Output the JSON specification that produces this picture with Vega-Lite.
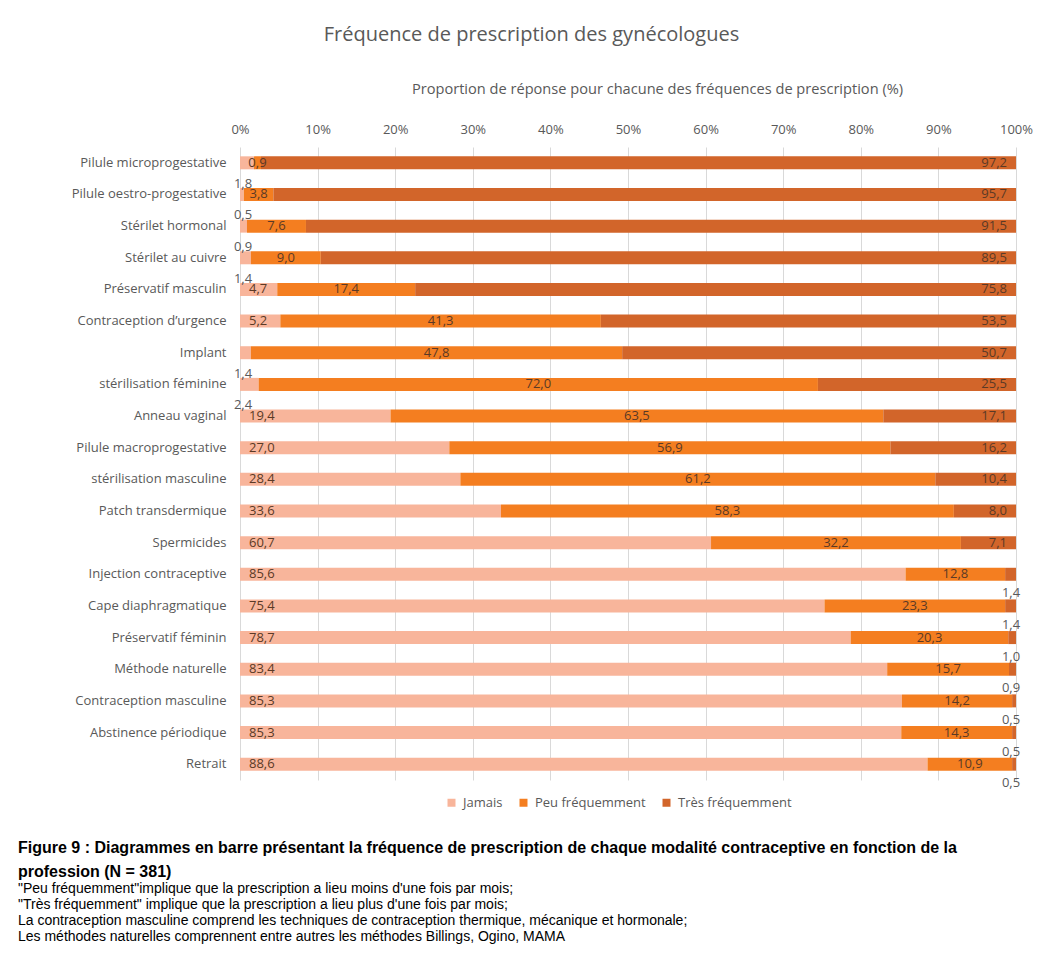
{
  "$schema": "https://vega.github.io/schema/vega-lite/v6.json",
  "width": 776,
  "height": 633,
  "autosize": {"type": "none"},
  "padding": {"left": 240, "top": 147, "right": 34, "bottom": 183},
  "background": "white",
  "config": {"view": {"stroke": null}, "font": "Open Sans"},
  "title": {
    "text": ["Figure 9 : Diagrammes en barre présentant la fréquence de prescription de chaque modalité contraceptive en fonction de la", "profession (N = 381)"],
    "subtitle": ["\"Peu fréquemment\"implique que la prescription a lieu moins d'une fois par mois;", "\"Très fréquemment\" implique que la prescription a lieu plus d'une fois par mois;", "La contraception masculine comprend les techniques de contraception thermique, mécanique et hormonale;", "Les méthodes naturelles comprennent entre autres les méthodes Billings, Ogino, MAMA"],
    "orient": "bottom",
    "anchor": "start",
    "frame": "group",
    "dx": -222,
    "offset": 30,
    "font": "Liberation Sans",
    "fontSize": 16,
    "fontWeight": "bold",
    "color": "#000000",
    "lineHeight": 24,
    "subtitleFont": "Liberation Sans",
    "subtitleFontSize": 14,
    "subtitleColor": "#000000",
    "subtitleLineHeight": 16,
    "subtitlePadding": 2
  },
  "data": {"values": [
    {"method": "Pilule microprogestative", "freq": "Jamais", "value": 1.8},
    {"method": "Pilule microprogestative", "freq": "Peu fréquemment", "value": 0.9},
    {"method": "Pilule microprogestative", "freq": "Très fréquemment", "value": 97.2},
    {"method": "Pilule oestro-progestative", "freq": "Jamais", "value": 0.5},
    {"method": "Pilule oestro-progestative", "freq": "Peu fréquemment", "value": 3.8},
    {"method": "Pilule oestro-progestative", "freq": "Très fréquemment", "value": 95.7},
    {"method": "Stérilet hormonal", "freq": "Jamais", "value": 0.9},
    {"method": "Stérilet hormonal", "freq": "Peu fréquemment", "value": 7.6},
    {"method": "Stérilet hormonal", "freq": "Très fréquemment", "value": 91.5},
    {"method": "Stérilet au cuivre", "freq": "Jamais", "value": 1.4},
    {"method": "Stérilet au cuivre", "freq": "Peu fréquemment", "value": 9.0},
    {"method": "Stérilet au cuivre", "freq": "Très fréquemment", "value": 89.5},
    {"method": "Préservatif masculin", "freq": "Jamais", "value": 4.7},
    {"method": "Préservatif masculin", "freq": "Peu fréquemment", "value": 17.4},
    {"method": "Préservatif masculin", "freq": "Très fréquemment", "value": 75.8},
    {"method": "Contraception d’urgence", "freq": "Jamais", "value": 5.2},
    {"method": "Contraception d’urgence", "freq": "Peu fréquemment", "value": 41.3},
    {"method": "Contraception d’urgence", "freq": "Très fréquemment", "value": 53.5},
    {"method": "Implant", "freq": "Jamais", "value": 1.4},
    {"method": "Implant", "freq": "Peu fréquemment", "value": 47.8},
    {"method": "Implant", "freq": "Très fréquemment", "value": 50.7},
    {"method": "stérilisation féminine", "freq": "Jamais", "value": 2.4},
    {"method": "stérilisation féminine", "freq": "Peu fréquemment", "value": 72.0},
    {"method": "stérilisation féminine", "freq": "Très fréquemment", "value": 25.5},
    {"method": "Anneau vaginal", "freq": "Jamais", "value": 19.4},
    {"method": "Anneau vaginal", "freq": "Peu fréquemment", "value": 63.5},
    {"method": "Anneau vaginal", "freq": "Très fréquemment", "value": 17.1},
    {"method": "Pilule macroprogestative", "freq": "Jamais", "value": 27.0},
    {"method": "Pilule macroprogestative", "freq": "Peu fréquemment", "value": 56.9},
    {"method": "Pilule macroprogestative", "freq": "Très fréquemment", "value": 16.2},
    {"method": "stérilisation masculine", "freq": "Jamais", "value": 28.4},
    {"method": "stérilisation masculine", "freq": "Peu fréquemment", "value": 61.2},
    {"method": "stérilisation masculine", "freq": "Très fréquemment", "value": 10.4},
    {"method": "Patch transdermique", "freq": "Jamais", "value": 33.6},
    {"method": "Patch transdermique", "freq": "Peu fréquemment", "value": 58.3},
    {"method": "Patch transdermique", "freq": "Très fréquemment", "value": 8.0},
    {"method": "Spermicides", "freq": "Jamais", "value": 60.7},
    {"method": "Spermicides", "freq": "Peu fréquemment", "value": 32.2},
    {"method": "Spermicides", "freq": "Très fréquemment", "value": 7.1},
    {"method": "Injection contraceptive", "freq": "Jamais", "value": 85.6},
    {"method": "Injection contraceptive", "freq": "Peu fréquemment", "value": 12.8},
    {"method": "Injection contraceptive", "freq": "Très fréquemment", "value": 1.4},
    {"method": "Cape diaphragmatique", "freq": "Jamais", "value": 75.4},
    {"method": "Cape diaphragmatique", "freq": "Peu fréquemment", "value": 23.3},
    {"method": "Cape diaphragmatique", "freq": "Très fréquemment", "value": 1.4},
    {"method": "Préservatif féminin", "freq": "Jamais", "value": 78.7},
    {"method": "Préservatif féminin", "freq": "Peu fréquemment", "value": 20.3},
    {"method": "Préservatif féminin", "freq": "Très fréquemment", "value": 1.0},
    {"method": "Méthode naturelle", "freq": "Jamais", "value": 83.4},
    {"method": "Méthode naturelle", "freq": "Peu fréquemment", "value": 15.7},
    {"method": "Méthode naturelle", "freq": "Très fréquemment", "value": 0.9},
    {"method": "Contraception masculine", "freq": "Jamais", "value": 85.3},
    {"method": "Contraception masculine", "freq": "Peu fréquemment", "value": 14.2},
    {"method": "Contraception masculine", "freq": "Très fréquemment", "value": 0.5},
    {"method": "Abstinence périodique", "freq": "Jamais", "value": 85.3},
    {"method": "Abstinence périodique", "freq": "Peu fréquemment", "value": 14.3},
    {"method": "Abstinence périodique", "freq": "Très fréquemment", "value": 0.5},
    {"method": "Retrait", "freq": "Jamais", "value": 88.6},
    {"method": "Retrait", "freq": "Peu fréquemment", "value": 10.9},
    {"method": "Retrait", "freq": "Très fréquemment", "value": 0.5}
  ]},
  "transform": [
    {"stack": "value", "groupby": ["method"], "sort": [{"field": "freq", "order": "ascending"}], "offset": "normalize", "as": ["v0", "v1"]},
    {"calculate": "(datum.v0 + datum.v1) / 2", "as": "mid"},
    {"calculate": "replace(format(datum.value, '.1f'), '.', ',')", "as": "label"}
  ],
  "encoding": {
    "y": {
      "field": "method",
      "type": "nominal",
      "sort": ["Pilule microprogestative", "Pilule oestro-progestative", "Stérilet hormonal", "Stérilet au cuivre", "Préservatif masculin", "Contraception d’urgence", "Implant", "stérilisation féminine", "Anneau vaginal", "Pilule macroprogestative", "stérilisation masculine", "Patch transdermique", "Spermicides", "Injection contraceptive", "Cape diaphragmatique", "Préservatif féminin", "Méthode naturelle", "Contraception masculine", "Abstinence périodique", "Retrait"],
      "scale": {"paddingInner": 0, "paddingOuter": 0},
      "axis": {
        "title": "Fréquence de prescription des gynécologues",
        "titleAngle": 0,
        "titleX": 291,
        "titleY": -113,
        "titleAlign": "center",
        "titleBaseline": "middle",
        "titleFontSize": 20,
        "titleFontWeight": "normal",
        "titleColor": "#595959",
        "labelFontSize": 13,
        "labelColor": "#595959",
        "ticks": false,
        "domain": false,
        "labelPadding": 14,
        "labelLimit": 300
      }
    }
  },
  "layer": [
    {
      "mark": {"type": "bar", "size": 13},
      "encoding": {
        "x": {
          "field": "v0",
          "type": "quantitative",
          "scale": {"domain": [0, 1], "nice": false},
          "axis": {
            "orient": "top",
            "format": ".0%",
            "values": [0, 0.1, 0.2, 0.3, 0.4, 0.5, 0.6, 0.7, 0.8, 0.9, 1],
            "labelFlush": false,
            "grid": true,
            "gridColor": "#d9d9d9",
            "ticks": false,
            "domain": false,
            "labelFontSize": 13,
            "labelColor": "#595959",
            "labelPadding": 11,
            "title": "Proportion de réponse pour chacune des fréquences de prescription (%)",
            "titleX": 417,
            "titleY": -58,
            "titleAlign": "center",
            "titleBaseline": "middle",
            "titleFontSize": 14.6,
            "titleFontWeight": "normal",
            "titleColor": "#595959"
          }
        },
        "x2": {"field": "v1"},
        "color": {
          "field": "freq",
          "type": "nominal",
          "scale": {"domain": ["Jamais", "Peu fréquemment", "Très fréquemment"], "range": ["#F8B59B", "#F47E20", "#D2652A"]},
          "legend": {
            "orient": "none",
            "legendX": 205,
            "legendY": 649,
            "direction": "horizontal",
            "title": null,
            "symbolType": "square",
            "symbolSize": 64,
            "symbolStrokeWidth": 0,
            "labelFontSize": 13,
            "labelColor": "#595959",
            "labelOffset": 5,
            "columnPadding": 14
          }
        }
      }
    },
    {
      "transform": [{"filter": "datum.freq == 'Jamais' && datum.value >= 3"}],
      "mark": {"type": "text", "align": "left", "baseline": "middle", "dx": 9, "fontSize": 13, "color": "#5b3a26"},
      "encoding": {"x": {"field": "v0", "type": "quantitative"}, "text": {"field": "label"}}
    },
    {
      "transform": [{"filter": "datum.freq == 'Peu fréquemment'"}],
      "mark": {"type": "text", "align": "center", "baseline": "middle", "fontSize": 13, "color": "#5b3a26"},
      "encoding": {"x": {"field": "mid", "type": "quantitative"}, "text": {"field": "label"}}
    },
    {
      "transform": [{"filter": "datum.freq == 'Très fréquemment' && datum.value >= 3"}],
      "mark": {"type": "text", "align": "right", "baseline": "middle", "dx": -9, "fontSize": 13, "color": "#5b3a26"},
      "encoding": {"x": {"field": "v1", "type": "quantitative"}, "text": {"field": "label"}}
    },
    {
      "transform": [{"filter": "datum.freq == 'Jamais' && datum.value < 3"}],
      "mark": {"type": "text", "align": "center", "baseline": "middle", "dx": 3, "dy": 21, "fontSize": 13, "color": "#595959"},
      "encoding": {"x": {"field": "v0", "type": "quantitative"}, "text": {"field": "label"}}
    },
    {
      "transform": [{"filter": "datum.freq == 'Très fréquemment' && datum.value < 3"}],
      "mark": {"type": "text", "align": "center", "baseline": "middle", "dx": -5, "dy": 19, "fontSize": 13, "color": "#595959"},
      "encoding": {"x": {"field": "v1", "type": "quantitative"}, "text": {"field": "label"}}
    }
  ]
}
